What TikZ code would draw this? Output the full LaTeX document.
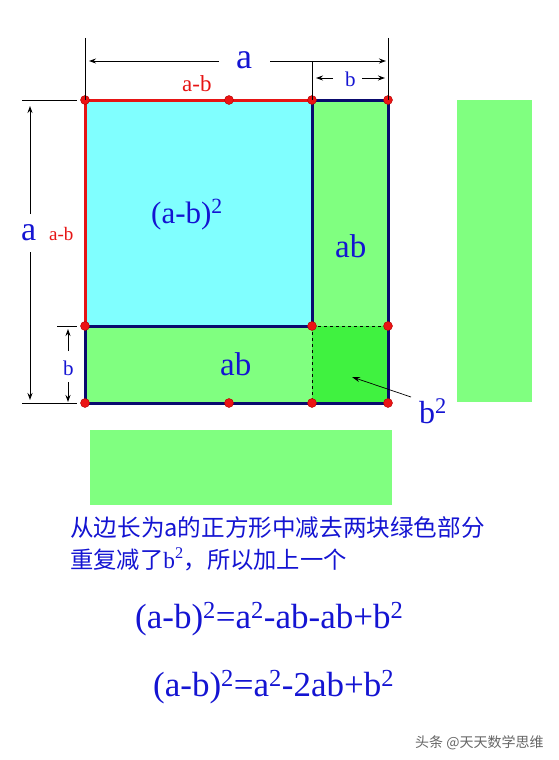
\documentclass[tikz,border=0pt]{standalone}
\usepackage{fontspec}
\setmainfont{Liberation Serif}
\newfontfamily\tnr{Liberation Serif}
\newfontfamily\cjk{Noto Sans CJK SC}
\usetikzlibrary{arrows.meta}
\definecolor{cyanfill}{RGB}{128,255,255}
\definecolor{greenfill}{RGB}{128,255,128}
\definecolor{darkgreen}{RGB}{64,242,64}
\definecolor{navy}{RGB}{10,10,110}
\definecolor{redline}{RGB}{230,20,20}
\definecolor{bluetext}{RGB}{20,20,210}
\definecolor{dotred}{RGB}{235,20,20}
\newcommand{\fs}[1]{\tnr\fontsize{#1}{#1}\selectfont}
\tikzset{
  thickred/.style={draw=redline,line width=3pt},
  thicknavy/.style={draw=navy,line width=3pt,line join=miter},
  dimline/.style={draw=black,line width=0.9pt},
  dimarrow/.style={draw=black,line width=0.9pt,-{Stealth[length=7pt,width=5pt]}},
  dot/.style={circle,fill=dotred,draw=red!70!black,line width=0.4pt,minimum size=9pt,inner sep=0pt},
  lbl/.style={inner sep=0pt,anchor=base west,text=bluetext},
  redlbl/.style={inner sep=0pt,anchor=base west,text=redline},
}
\begin{document}
\begin{tikzpicture}[x=1pt,y=-1pt]
\useasboundingbox (0,0) rectangle (559,760);
% corners
\coordinate (A) at (85,100);
\coordinate (B) at (312,100);
\coordinate (C) at (388,100);
\coordinate (D) at (85,326);
\coordinate (E) at (312,326);
\coordinate (F) at (388,326);
\coordinate (G) at (85,403);
\coordinate (H) at (312,403);
\coordinate (I) at (388,403);
\coordinate (M1) at (229,100);
\coordinate (M2) at (229,403);
% fills
\fill[cyanfill] (A) rectangle (E);
\fill[greenfill] (B) rectangle (I);
\fill[greenfill] (D) rectangle (H);
\fill[darkgreen] (E) rectangle (I);
\draw[black,dashed,line width=0.6pt] (E) -- (F);
\draw[black,dashed,line width=0.6pt] (E) -- (H);
% outlines
\draw[thicknavy] (B) -- (C) -- (I) -- (G) -- (D);
\draw[thicknavy] (D) -- (E) -- (B);
\draw[thickred] (D) -- (A) -- (B);
% dots
\foreach \p in {A,B,C,D,E,F,G,H,I,M1,M2} \node[dot] at (\p) {};
% separate green pieces
\fill[greenfill] (457,100) rectangle (532,402);
\fill[greenfill] (90,430) rectangle (392,505);
% top dimension
\coordinate (ta1) at (85,38);
\coordinate (ta2) at (388,38);
\draw[dimline] (ta1) -- (A);
\draw[dimline] (ta2) -- (C);
\node[lbl,font=\fs{36}] (atop) at (236,68) {a};
\coordinate (tl) at (219,61);
\coordinate (tle) at (89,61);
\coordinate (tr) at (270,61);
\coordinate (tre) at (386,61);
\draw[dimarrow] (tl) -- (tle);
\draw[dimarrow] (tr) -- (tre);
% top b dimension
\coordinate (tb1) at (312,62);
\draw[dimline] (tb1) -- (B);
\node[lbl,font=\fs{21}] (btop) at (345,86) {b};
\coordinate (bl) at (333,78);
\coordinate (ble) at (316,78);
\coordinate (br) at (362,78);
\coordinate (bre) at (385,78);
\draw[dimarrow] (bl) -- (ble);
\draw[dimarrow] (br) -- (bre);
\node[redlbl,font=\fs{23}] (abtop) at (182,91) {a-b};
% left dimension
\coordinate (la1) at (22,100);
\coordinate (la1e) at (77,100);
\coordinate (la2) at (22,403);
\coordinate (la2e) at (77,403);
\draw[dimline] (la1) -- (la1e);
\draw[dimline] (la2) -- (la2e);
\coordinate (lu) at (30,214);
\coordinate (lue) at (30,106);
\coordinate (ld) at (30,252);
\coordinate (lde) at (30,400);
\draw[dimarrow] (lu) -- (lue);
\draw[dimarrow] (ld) -- (lde);
\node[lbl,font=\fs{34}] (aleft) at (21,240) {a};
\node[redlbl,font=\fs{19}] (ableft) at (49,240) {a-b};
% left b dimension
\coordinate (lb1) at (57,326);
\coordinate (lb1e) at (77,326);
\draw[dimline] (lb1) -- (lb1e);
\coordinate (bu) at (68,351);
\coordinate (bue) at (68,329);
\coordinate (bd) at (68,382);
\coordinate (bde) at (68,402);
\draw[dimarrow] (bu) -- (bue);
\draw[dimarrow] (bd) -- (bde);
\node[lbl,font=\fs{21}] (bleft) at (63,375) {b};
% area labels
\node[lbl,font=\fs{31}] (sq) at (151,223) {(a-b)\textsuperscript{2}};
\node[lbl,font=\fs{33}] (abr) at (335,257) {ab};
\node[lbl,font=\fs{33}] (abb) at (220,375) {ab};
\node[lbl,font=\fs{32}] (bsq) at (419,423) {b\textsuperscript{2}};
\coordinate (arrs) at (411,397);
\coordinate (arre) at (352,377);
\draw[draw=black,line width=0.7pt,-{Stealth[length=8pt,width=5pt]}] (arrs) -- (arre);
% text
\node[lbl,font=\cjk\fontsize{23.6}{23.6}\selectfont] (t1) at (70,536) {从边长为a的正方形中减去两块绿色部分};
\node[lbl,font=\cjk\fontsize{23.3}{23.3}\selectfont] (t2) at (70,568) {重复减了{\tnr b\textsuperscript{2}}，所以加上一个};
\node[lbl,font=\fs{35}] (f1) at (135,628) {(a-b)\textsuperscript{2}=a\textsuperscript{2}-ab-ab+b\textsuperscript{2}};
\node[lbl,font=\fs{35}] (f2) at (153,696) {(a-b)\textsuperscript{2}=a\textsuperscript{2}-2ab+b\textsuperscript{2}};
\node[inner sep=0pt,anchor=west,text=black!60,font=\cjk\fontsize{14}{14}\selectfont] (wm) at (415,743) {头条 @天天数学思维};
\end{tikzpicture}
\end{document}
